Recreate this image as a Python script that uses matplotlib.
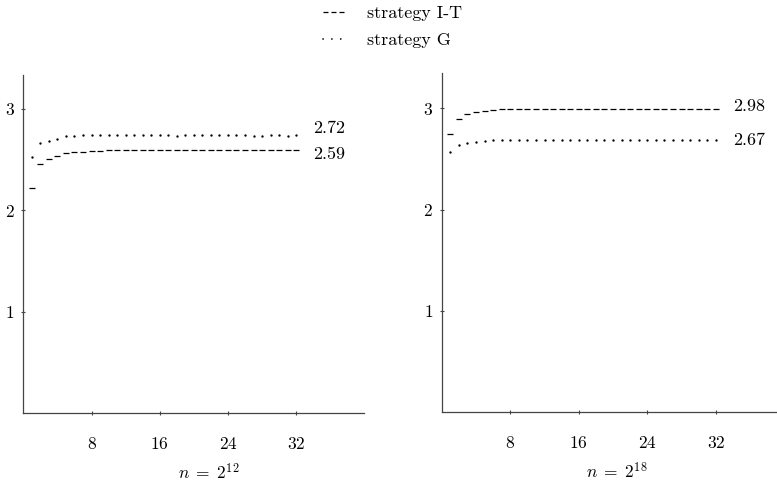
import matplotlib
matplotlib.use("Agg")
import matplotlib.pyplot as plt
from matplotlib.lines import Line2D

plt.rcParams["font.family"] = "cmr10"
plt.rcParams["mathtext.fontset"] = "cm"
plt.rcParams["axes.unicode_minus"] = False
plt.rcParams["axes.formatter.use_mathtext"] = True

# iteration index (points 1..32)
k = list(range(1, 33))

# n = 2^12
left_it = [2.22, 2.45, 2.50, 2.535, 2.56, 2.57, 2.575, 2.58, 2.585, 2.59,
           2.59, 2.59, 2.595, 2.595, 2.595, 2.595, 2.595, 2.595, 2.595, 2.595,
           2.595, 2.595, 2.595, 2.595, 2.595, 2.595, 2.595, 2.595, 2.595, 2.595,
           2.595, 2.595]
left_g = [2.52, 2.66, 2.68, 2.70, 2.73, 2.73, 2.735, 2.735, 2.74, 2.735,
          2.74, 2.735, 2.735, 2.735, 2.735, 2.735, 2.735, 2.725, 2.74, 2.74,
          2.74, 2.735, 2.74, 2.735, 2.735, 2.74, 2.73, 2.725, 2.735, 2.74,
          2.73, 2.735]

# n = 2^18
right_it = [2.75, 2.895, 2.94, 2.965, 2.977, 2.985, 2.99, 2.99, 2.995, 2.995,
            2.995, 2.995, 2.995, 2.995, 2.995, 2.995, 2.995, 2.995, 2.995, 2.995,
            2.995, 2.995, 2.995, 2.995, 2.995, 2.995, 2.995, 2.995, 2.995, 2.995,
            2.995, 2.995]
right_g = [2.57, 2.64, 2.66, 2.665, 2.675, 2.685, 2.69, 2.69, 2.69, 2.69,
           2.69, 2.69, 2.69, 2.69, 2.69, 2.69, 2.69, 2.69, 2.69, 2.69,
           2.69, 2.69, 2.69, 2.69, 2.69, 2.69, 2.69, 2.69, 2.69, 2.69,
           2.69, 2.69]

end_labels = {"left": ("2.72", "2.59"), "right": ("2.98", "2.67")}
panel_titles = [r"$n\;=\;2^{12}$", r"$n\;=\;2^{18}$"]

xticks = [8, 16, 24, 32]
yticks = [1, 2, 3]

fig = plt.figure(figsize=(7.77, 4.87), dpi=100)
ax1 = fig.add_axes([0.030, 0.1513, 0.439, 0.6947])
ax2 = fig.add_axes([0.5685, 0.1534, 0.441, 0.697])

spine_col = "#444444"


def style(ax, ymax):
    ax.set_xlim(0, 40)
    ax.set_ylim(0, ymax)
    for s in ("top", "right"):
        ax.spines[s].set_visible(False)
    for s in ("left", "bottom"):
        ax.spines[s].set_color(spine_col)
        ax.spines[s].set_linewidth(0.9)
    ax.set_xticks(xticks)
    ax.set_yticks(yticks)
    ax.tick_params(axis="both", direction="inout", length=3, width=0.8,
                   color=spine_col, labelsize=12.5)
    ax.tick_params(axis="x", pad=15)
    ax.tick_params(axis="y", pad=4.8)


def draw(ax, it, g, labels, title, title_x):
    ax.plot(k, it, ls="none", marker="_", ms=4.7, mew=0.9, color="black")
    ax.plot(k, g, ls="none", marker="o", ms=1.7, mew=0, color="black")
    # end-of-series value labels
    hi, lo = (g, it) if g[-1] > it[-1] else (it, g)
    off = 0.07 if ax is ax1 else 0.02
    ax.text(34, hi[-1] + off, labels[0], fontsize=13, va="center", ha="left")
    ax.text(34, lo[-1] - (0.045 if ax is ax1 else 0.01), labels[1],
            fontsize=13, va="center", ha="left")
    ax.text(title_x, -0.173, title, transform=ax.transAxes, fontsize=12.5,
            ha="center", va="center")


style(ax1, 3.33)
style(ax2, 3.35)
draw(ax1, left_it, left_g, end_labels["left"], panel_titles[0], 0.544)
draw(ax2, right_it, right_g, end_labels["right"], panel_titles[1], 0.51)

handles = [
    Line2D([], [], color="black", lw=0.9, ls=(0, (4.0, 2.4))),
    Line2D([], [], color="black", lw=1.2, ls=(0, (0.1, 5.2)),
           dash_capstyle="round"),
]
fig.legend(handles, ["strategy I-T", "strategy G"], loc="upper left",
           bbox_to_anchor=(0.4157, 0.989), frameon=False, fontsize=13,
           handlelength=1.28, handletextpad=1.15, labelspacing=0.62,
           borderpad=0, borderaxespad=0)

fig.savefig("out.png", dpi=100)
